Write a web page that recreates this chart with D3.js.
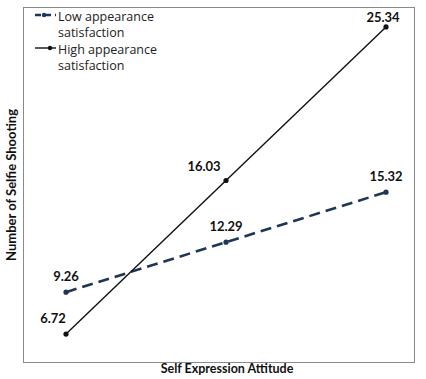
<!DOCTYPE html>
<html><head><meta charset="utf-8">
<script src="https://cdn.jsdelivr.net/npm/d3@7"></script>
<style>body{margin:0;background:#fff}svg{display:block}</style>
</head><body>
<script>
const categories = ["Low", "Medium", "High"];
const lowValues = [9.26, 12.29, 15.32];
const highValues = [6.72, 16.03, 25.34];
const seriesNames = ["Low appearance satisfaction", "High appearance satisfaction"];
const xTitle = "Self Expression Attitude";
const yTitle = "Number of Selfie Shooting";

const W = 426, H = 379;
const svg = d3.select("body").append("svg").attr("width", W).attr("height", H);
const F = "Lato, 'Open Sans', sans-serif";
const FL = "'Open Sans', Lato, sans-serif";

const plot = {l: 23.5, t: 7.5, r: 414.5, b: 362.5};
const x = d3.scalePoint().domain(categories).range([66, 386]);
const y = d3.scaleLinear().domain([5, 26.5]).range([362.4, 7.8]);

svg.append("rect").attr("x", plot.l).attr("y", plot.t)
  .attr("width", plot.r - plot.l).attr("height", plot.b - plot.t)
  .attr("fill", "none").attr("stroke", "#8a8a8a").attr("stroke-width", 1);

const series = [
  {name: seriesNames[0], values: lowValues, color: "#1f3556", width: 2.6, dash: "11,6", r: 2.6,
   off: [[0, -11], [0, -11], [0, -11]], legDot: 44},
  {name: seriesNames[1], values: highValues, color: "#111", width: 1.4, dash: null, r: 2.6,
   off: [[-13, -11], [-22, -9], [-3, -5]], legDot: 50}
];

const line = d3.line().x((d, i) => x(categories[i])).y(d => y(d));
series.forEach(s => {
  svg.append("path").datum(s.values).attr("d", line)
    .attr("fill", "none").attr("stroke", s.color).attr("stroke-width", s.width)
    .attr("stroke-dasharray", s.dash);
  svg.selectAll(null).data(s.values).join("circle")
    .attr("cx", (d, i) => x(categories[i])).attr("cy", d => y(d)).attr("r", s.r)
    .attr("fill", s.color);
  svg.selectAll(null).data(s.values).join("text")
    .attr("x", (d, i) => x(categories[i]) + s.off[i][0])
    .attr("y", (d, i) => y(d) + s.off[i][1])
    .attr("text-anchor", "middle").attr("font-family", F).attr("font-weight", "bold")
    .attr("font-size", 13).attr("fill", "#111").text(d => d.toFixed(2));
});

// legend
const leg = svg.append("g");
series.forEach((s, i) => {
  const yy = 15 + i * 33;
  leg.append("line").attr("x1", 35).attr("x2", 56).attr("y1", yy).attr("y2", yy)
    .attr("stroke", s.color).attr("stroke-width", s.dash ? 2.4 : 1.4)
    .attr("stroke-dasharray", s.dash ? "6,4" : null);
  leg.append("circle").attr("cx", s.legDot).attr("cy", yy).attr("r", 2.2).attr("fill", s.color);
  const words = s.name.split(" ");
  const t = leg.append("text").attr("y", yy + 5.5)
    .attr("font-family", FL).attr("font-size", 12.5).attr("fill", "#222");
  t.append("tspan").attr("x", 58).text(words.slice(0, 2).join(" "));
  t.append("tspan").attr("x", 58).attr("dy", 16).text(words.slice(2).join(" "));
});

svg.append("text").attr("x", 227).attr("y", 373).attr("text-anchor", "middle")
  .attr("font-family", F).attr("font-weight", "bold").attr("font-size", 12.5)
  .attr("fill", "#111").text(xTitle);
svg.append("text").attr("transform", "translate(16,185) rotate(-90)")
  .attr("text-anchor", "middle").attr("font-family", F).attr("font-weight", "bold")
  .attr("font-size", 13).attr("fill", "#111").text(yTitle);
</script>
</body></html>
